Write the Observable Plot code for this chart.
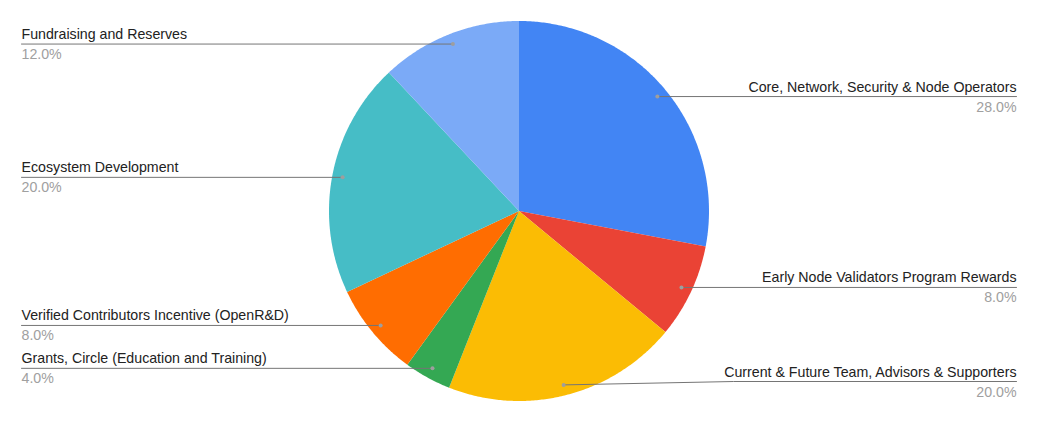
<!DOCTYPE html>
<html>
<head>
<meta charset="utf-8">
<script src="https://cdn.jsdelivr.net/npm/d3@7"></script>
<script src="https://cdn.jsdelivr.net/npm/@observablehq/plot@0.6"></script>
<style>
  html, body { margin: 0; padding: 0; background: #fff; }
  #chart svg { display: block; }
</style>
</head>
<body>
<div id="chart"></div>
<script>
const categories = [
  "Core, Network, Security & Node Operators",
  "Early Node Validators Program Rewards",
  "Current & Future Team, Advisors & Supporters",
  "Grants, Circle (Education and Training)",
  "Verified Contributors Incentive (OpenR&D)",
  "Ecosystem Development",
  "Fundraising and Reserves"
];
const values = [28, 8, 20, 4, 8, 20, 12];
const colors = ["#4285F4", "#EA4335", "#FBBC04", "#34A853", "#FF6D01", "#46BDC6", "#7BAAF7"];

const W = 1037, H = 421;
const cx = 518.5, cy = 210.5, R = 190;
const leftX = 21, rightX = 1016;

const pie = d3.pie().sort(null).value(d => d.value);
const arcs = pie(categories.map((name, i) => ({name, value: values[i]})));

const polar = (a, r) => [cx + r * Math.sin(a), cy - r * Math.cos(a)];

// slice outlines
const slicePts = [];
arcs.forEach(a => {
  slicePts.push({name: a.data.name, x: cx, y: cy});
  const n = Math.max(4, Math.ceil((a.endAngle - a.startAngle) / (Math.PI / 360)));
  for (let k = 0; k <= n; k++) {
    const t = a.startAngle + (a.endAngle - a.startAngle) * k / n;
    const [x, y] = polar(t, R);
    slicePts.push({name: a.data.name, x, y});
  }
});

const total = d3.sum(values);
const labels = arcs.map(a => {
  const mid = (a.startAngle + a.endAngle) / 2;
  const [dx, dy] = polar(mid, R * 0.945);
  const right = Math.sin(mid) > 0;
  const ly = Math.min(dy, 381);
  return {
    name: a.data.name,
    pct: (a.data.value / total * 100).toFixed(1) + "%",
    dotX: dx, dotY: dy, right, ly,
    tx: right ? rightX : leftX
  };
});

const leaders = [];
labels.forEach(l => {
  leaders.push({name: l.name, x: l.dotX, y: l.dotY});
  if (Math.abs(l.ly - l.dotY) > 0.5) {
    leaders.push({name: l.name, x: l.dotX + (l.right ? 170 : -170), y: l.ly});
  }
  leaders.push({name: l.name, x: l.tx, y: l.ly});
});

const font = "'Liberation Sans', Arial, sans-serif";
const fs = 14.2;
const chart = Plot.plot({
  width: W,
  height: H,
  margin: 0,
  x: {domain: [0, W], range: [0, W], axis: null},
  y: {domain: [0, H], range: [0, H], axis: null},
  color: {domain: categories, range: colors},
  style: {fontFamily: font, background: "#fff"},
  marks: [
    Plot.line(slicePts, {x: "x", y: "y", z: "name", fill: "name", stroke: "none", curve: "linear"}),
    Plot.line(leaders, {x: "x", y: "y", z: "name", stroke: "#757575", strokeWidth: 1}),
    Plot.dot(labels, {x: "dotX", y: "dotY", r: 2, fill: "#9e9e9e", stroke: "none"}),
    Plot.text(labels.filter(d => d.right), {x: "tx", y: "ly", text: "name", textAnchor: "end", lineAnchor: "bottom", dy: -5, fontSize: fs, fill: "#222"}),
    Plot.text(labels.filter(d => !d.right), {x: "tx", y: "ly", text: "name", textAnchor: "start", lineAnchor: "bottom", dy: -5, fontSize: fs, fill: "#222"}),
    Plot.text(labels.filter(d => d.right), {x: "tx", y: "ly", text: "pct", textAnchor: "end", lineAnchor: "bottom", dy: 15, fontSize: fs, fill: "#a0a0a0"}),
    Plot.text(labels.filter(d => !d.right), {x: "tx", y: "ly", text: "pct", textAnchor: "start", lineAnchor: "bottom", dy: 15, fontSize: fs, fill: "#a0a0a0"})
  ]
});
document.getElementById("chart").appendChild(chart);
</script>
</body>
</html>
